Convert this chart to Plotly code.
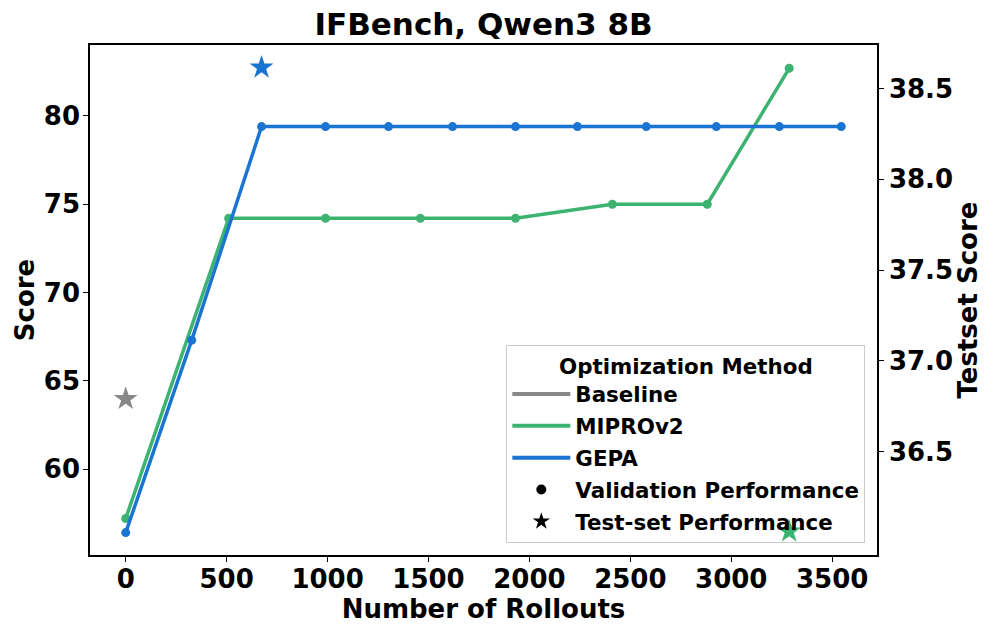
import plotly.graph_objects as go

# ---- data ----
gepa_rollouts = [0, 327, 673, 990, 1302, 1619, 1931, 2238, 2579, 2926, 3238, 3545]
gepa_scores = [56.4, 67.3, 79.4, 79.4, 79.4, 79.4, 79.4, 79.4, 79.4, 79.4, 79.4, 79.4]

mipro_rollouts = [0, 510, 990, 1460, 1931, 2411, 2881, 3287]
mipro_scores = [57.2, 74.2, 74.2, 74.2, 74.2, 75.0, 75.0, 82.7]

test_methods = ["Baseline", "GEPA", "MIPROv2"]
test_rollouts = [0, 673, 3287]
test_scores = [36.79, 38.616, 36.06]

x_ticks = [0, 500, 1000, 1500, 2000, 2500, 3000, 3500]
y_ticks = [60, 65, 70, 75, 80]
y2_ticks = [36.5, 37.0, 37.5, 38.0, 38.5]

colors = {"Baseline": "#888888", "MIPROv2": "#3cb371", "GEPA": "#1a74d2"}

FONT = "DejaVu Sans"

fig = go.Figure()

# validation curves (left axis)
fig.add_trace(go.Scatter(x=mipro_rollouts, y=mipro_scores, mode="lines+markers",
                         line=dict(color=colors["MIPROv2"], width=3.5),
                         marker=dict(size=9, color=colors["MIPROv2"]),
                         showlegend=False, yaxis="y"))
fig.add_trace(go.Scatter(x=gepa_rollouts, y=gepa_scores, mode="lines+markers",
                         line=dict(color=colors["GEPA"], width=3.5),
                         marker=dict(size=9, color=colors["GEPA"]),
                         showlegend=False, yaxis="y"))

# test-set stars (right axis)
fig.add_trace(go.Scatter(x=test_rollouts, y=test_scores, mode="markers",
                         marker=dict(symbol="star", size=18,
                                     color=[colors[m] for m in test_methods],
                                     line=dict(width=0)),
                         showlegend=False, yaxis="y2"))

# legend-only entries
for name in ["Baseline", "MIPROv2", "GEPA"]:
    fig.add_trace(go.Scatter(x=[None], y=[None], mode="lines", name=name, legendgroup=name,
                             line=dict(color=colors[name], width=4)))
fig.add_trace(go.Scatter(x=[None], y=[None], mode="markers", name="Validation Performance",
                         legendgroup="val",
                         marker=dict(symbol="circle", size=10, color="black")))
fig.add_trace(go.Scatter(x=[None], y=[None], mode="markers", name="Test-set Performance",
                         legendgroup="test",
                         marker=dict(symbol="star", size=13, color="black")))

tickfont = dict(family=FONT, size=26, color="black", weight="bold")
titlefont = dict(family=FONT, size=26, color="black", weight="bold")

fig.update_layout(
    width=997, height=634,
    margin=dict(l=90, r=120, t=45, b=79),
    paper_bgcolor="white", plot_bgcolor="white",
    title=dict(text="IFBench, Qwen3 8B", x=0.485, xanchor="center", y=0.962, yanchor="middle",
               font=dict(family=FONT, size=31, color="black", weight="bold")),
    xaxis=dict(range=[-177, 3722], tickvals=x_ticks, ticks="outside", ticklen=5,
               tickcolor="black", showline=True, linecolor="black", linewidth=1.5,
               mirror=True, showgrid=False, zeroline=False, tickfont=tickfont,
               automargin=False, ticklabelstandoff=-5,
               title=dict(text="Number of Rollouts", font=titlefont, standoff=2)),
    yaxis=dict(range=[55.13, 84.02], tickvals=y_ticks, ticks="outside", ticklen=5,
               tickcolor="black", showline=True, linecolor="black", linewidth=1.5,
               showgrid=False, zeroline=False, tickfont=tickfont, automargin=False,
               ticklabelstandoff=-2,
               title=dict(text="Score", font=titlefont, standoff=2)),
    yaxis2=dict(range=[35.93, 38.74], tickvals=y2_ticks, tickformat=".1f",
                overlaying="y", side="right", ticks="outside", ticklen=5,
                tickcolor="black", showline=True, linecolor="black", linewidth=1.5,
                showgrid=False, zeroline=False, tickfont=tickfont, automargin=False,
                title=dict(text="Testset Score", font=titlefont, standoff=6)),
    legend=dict(x=0.529, y=0.024, xanchor="left", yanchor="bottom",
                bgcolor="rgba(255,255,255,0)", bordercolor="#cccccc", borderwidth=1,
                font=dict(family=FONT, size=21.4, color="black", weight="bold"),
                title=dict(text="Optimization Method", side="top center",
                           font=dict(family=FONT, size=21.4, color="black", weight="bold")),
                itemwidth=58, tracegroupgap=1),
)

fig.write_html("out.html", config={"displayModeBar": False},
               post_script="document.body.style.margin='0px';")
